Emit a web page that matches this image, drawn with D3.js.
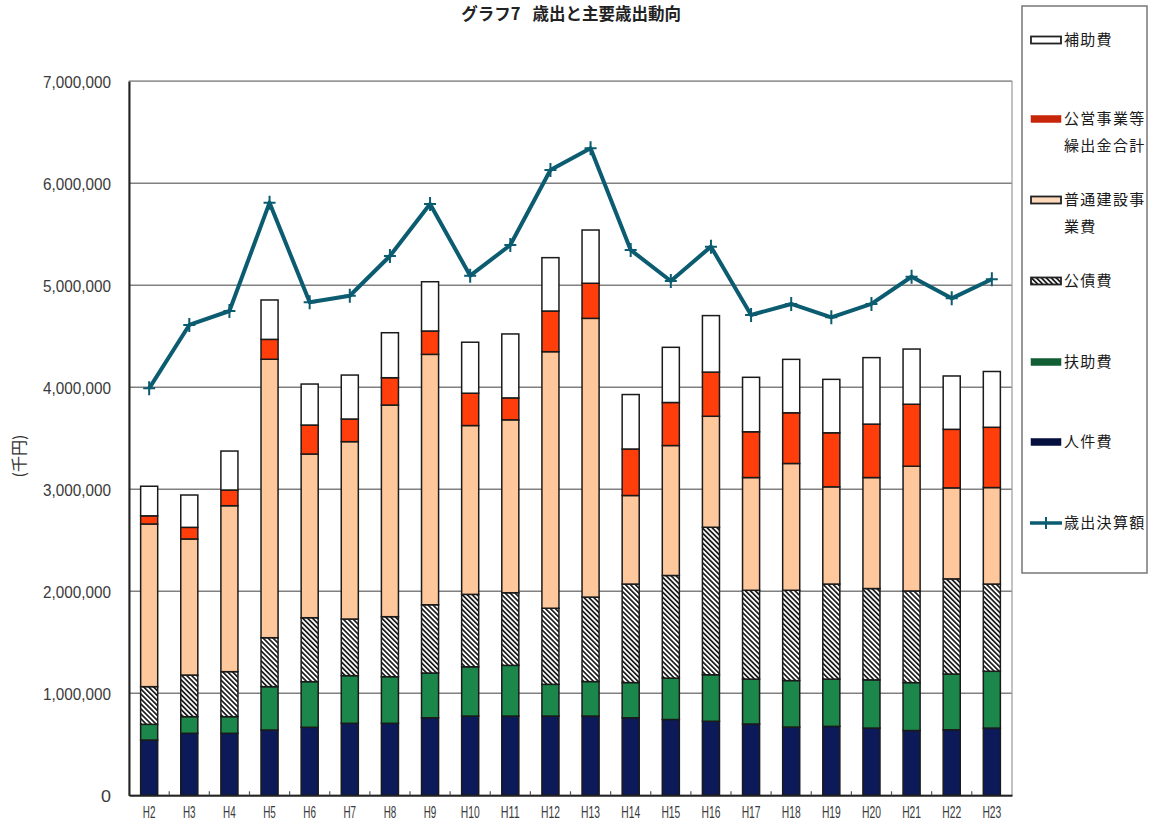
<!DOCTYPE html>
<html lang="ja">
<head>
<meta charset="utf-8">
<script src="https://cdn.jsdelivr.net/npm/d3@7"></script>
<style>
  html, body { margin: 0; padding: 0; background: #fff; }
  svg { display: block; }
</style>
</head>
<body>
<svg id="chart" width="1151" height="821"></svg>
<script>
// 年度
const years = ["H2","H3","H4","H5","H6","H7","H8","H9","H10","H11","H12","H13","H14","H15","H16","H17","H18","H19","H20","H21","H22","H23"];

// 主要歳出（千円）
const personnel = [542000,608000,608000,640000,667000,706000,706000,760000,777000,777000,777000,777000,760000,743000,726000,699000,669000,676000,659000,635000,642000,659000];        // 人件費
const assistance = [154000,163000,163000,425000,447000,467000,457000,439000,483000,497000,311000,338000,345000,406000,456000,440000,456000,463000,473000,470000,547000,557000];   // 扶助費
const debtService = [369000,408000,441000,480000,627000,555000,588000,669000,710000,712000,746000,828000,966000,1006000,1446000,871000,885000,932000,895000,898000,933000,855000]; // 公債費
const construction = [1595000,1334000,1627000,2730000,1605000,1739000,2075000,2455000,1655000,1695000,2515000,2733000,868000,1274000,1088000,1105000,1243000,953000,1088000,1223000,892000,946000]; // 普通建設事業費
const transfers = [80000,114000,154000,195000,284000,222000,268000,229000,317000,215000,399000,344000,456000,422000,433000,449000,497000,530000,524000,608000,574000,591000];      // 公営事業等繰出金合計
const subsidies = [290000,317000,382000,386000,402000,431000,441000,483000,500000,627000,523000,522000,534000,541000,554000,534000,524000,524000,652000,541000,523000,547000];    // 補助費

// 歳出決算額（千円）
const totalExpenditure = [3990000,4611000,4748000,5810000,4833000,4898000,5287000,5797000,5094000,5395000,6130000,6343000,5346000,5042000,5379000,4709000,4817000,4686000,4817000,5084000,4872000,5059000];

// 縦軸目盛
const yTicks = [0,1000000,2000000,3000000,4000000,5000000,6000000,7000000];

const seriesKeys = ["personnel","assistance","debtService","construction","transfers","subsidies"];
const fills = {
  personnel: "#0c1a5a",
  assistance: "#1b874b",
  debtService: "url(#hatch)",
  construction: "#ffc89c",
  transfers: "#ff3e0c",
  subsidies: "#ffffff"
};
const lineColor = "#0b5c70";

const rows = years.map((yr, i) => ({
  year: yr,
  personnel: personnel[i], assistance: assistance[i], debtService: debtService[i],
  construction: construction[i], transfers: transfers[i], subsidies: subsidies[i],
  total: totalExpenditure[i]
}));

const svg = d3.select("#chart");
const plotLeft = 129, plotRight = 1012, plotTop = 81.3, plotBottom = 795.3;

// 斜線パターン（公債費）
const defs = svg.append("defs");
defs.append("pattern")
  .attr("id", "hatch")
  .attr("patternUnits", "userSpaceOnUse")
  .attr("width", 3.5).attr("height", 3.5)
  .attr("patternTransform", "rotate(-45)")
  .call(p => {
    p.append("rect").attr("width", 3.5).attr("height", 3.5).attr("fill", "#fff");
    p.append("rect").attr("width", 1.7).attr("height", 3.5).attr("fill", "#1a1a1a");
  });

const x = d3.scaleBand().domain(years).range([plotLeft, plotRight]).paddingInner(0.575).paddingOuter(0.29);
const y = d3.scaleLinear().domain([0, 7000000]).range([plotBottom, plotTop]);

// グリッド線
svg.append("g")
  .selectAll("line")
  .data(yTicks.filter(t => t > 0))
  .join("line")
  .attr("x1", plotLeft).attr("x2", plotRight)
  .attr("y1", d => y(d)).attr("y2", d => y(d))
  .attr("stroke", "#808080").attr("stroke-width", 1.5);

// 外枠
svg.append("rect")
  .attr("x", plotLeft).attr("y", plotTop)
  .attr("width", plotRight - plotLeft).attr("height", plotBottom - plotTop)
  .attr("fill", "none").attr("stroke", "#9a9a9a").attr("stroke-width", 1.2);

// 縦軸
const yAxis = d3.axisLeft(y).tickValues(yTicks).tickFormat(d3.format(",")).tickSize(0).tickPadding(18);
const gy = svg.append("g").attr("transform", `translate(${plotLeft},0)`).call(yAxis);
gy.select(".domain").attr("stroke", "#222").attr("stroke-width", 2);
gy.selectAll("text")
  .attr("font-family", "'Liberation Sans', Arial, sans-serif")
  .attr("font-size", 17)
  .attr("fill", "#3a3a3a")
  .attr("dy", "0.35em")
  .each(function () {
    const t = d3.select(this);
    const s = t.text();
    const w = s.length > 1 ? 68 : 10;
    t.attr("textLength", w).attr("lengthAdjust", "spacingAndGlyphs");
  });

// 積み上げ棒
const stacked = d3.stack().keys(seriesKeys)(rows);
svg.append("g")
  .selectAll("g")
  .data(stacked)
  .join("g")
  .attr("fill", d => fills[d.key])
  .selectAll("rect")
  .data(d => d)
  .join("rect")
  .attr("x", d => x(d.data.year))
  .attr("width", x.bandwidth())
  .attr("y", d => y(d[1]))
  .attr("height", d => y(d[0]) - y(d[1]))
  .attr("stroke", "#1a1a1a")
  .attr("stroke-width", 1.5);

// 横軸
const xAxis = d3.axisBottom(x).tickSize(0).tickPadding(11);
const gx = svg.append("g").attr("transform", `translate(0,${plotBottom})`).call(xAxis);
gx.select(".domain").attr("stroke", "#222").attr("stroke-width", 2);
gx.selectAll("text")
  .attr("font-family", "'Liberation Sans', Arial, sans-serif")
  .attr("font-size", 16)
  .attr("fill", "#3a3a3a")
  .each(function () {
    const t = d3.select(this);
    t.attr("textLength", t.text().length * 6.3).attr("lengthAdjust", "spacingAndGlyphs");
  });

// 区切り目盛（内向き）
svg.append("g")
  .selectAll("line")
  .data(years.slice(1))
  .join("line")
  .attr("x1", d => x(d) - x.step() * x.paddingInner() / 2)
  .attr("x2", d => x(d) - x.step() * x.paddingInner() / 2)
  .attr("y1", plotBottom).attr("y2", plotBottom - 4)
  .attr("stroke", "#555").attr("stroke-width", 1.2);

// 歳出決算額の折れ線
const line = d3.line()
  .x(d => x(d.year) + x.bandwidth() / 2)
  .y(d => y(d.total));
svg.append("path")
  .datum(rows)
  .attr("d", line)
  .attr("fill", "none")
  .attr("stroke", lineColor)
  .attr("stroke-width", 4)
  .attr("stroke-linejoin", "round");

svg.append("g")
  .selectAll("path")
  .data(rows)
  .join("path")
  .attr("transform", d => `translate(${x(d.year) + x.bandwidth() / 2},${y(d.total)})`)
  .attr("d", "M-6,0H6M0,-7V7")
  .attr("stroke", lineColor)
  .attr("stroke-width", 2);

// タイトル
const title = svg.append("text")
  .attr("x", 571).attr("y", 20)
  .attr("text-anchor", "middle")
  .attr("font-family", "'Noto Sans CJK JP', sans-serif")
  .attr("font-size", 16.5)
  .attr("font-weight", "bold")
  .attr("fill", "#222");
title.append("tspan").text("グラフ7");
title.append("tspan").attr("dx", 12).text("歳出と主要歳出動向");

// 縦軸単位
svg.append("text")
  .attr("transform", "translate(19,456) rotate(-90)")
  .attr("text-anchor", "middle")
  .attr("dy", "0.35em")
  .attr("font-family", "'Noto Sans CJK JP', sans-serif")
  .attr("font-size", 16)
  .attr("fill", "#333")
  .text("(千円)");

// 凡例
const legend = svg.append("g");
legend.append("rect")
  .attr("x", 1022).attr("y", 6).attr("width", 125).attr("height", 567)
  .attr("fill", "#fff").attr("stroke", "#777").attr("stroke-width", 1.5);

const legendItems = [
  { key: "subsidies", lines: ["補助費"], cy: 40 },
  { key: "transfers", lines: ["公営事業等", "繰出金合計"], cy: 119 },
  { key: "construction", lines: ["普通建設事", "業費"], cy: 200 },
  { key: "debtService", lines: ["公債費"], cy: 281 },
  { key: "assistance", lines: ["扶助費"], cy: 362 },
  { key: "personnel", lines: ["人件費"], cy: 442 },
  { key: "total", lines: ["歳出決算額"], cy: 523 }
];
const legendFill = {
  subsidies: "#ffffff", transfers: "#c8260a", construction: "#ffd9bb",
  debtService: "url(#hatch)", assistance: "#115e34", personnel: "#05103e"
};
const outlined = new Set(["subsidies", "construction", "debtService"]);

legendItems.forEach(item => {
  const g = legend.append("g");
  if (item.key === "total") {
    g.append("line")
      .attr("x1", 1030).attr("x2", 1062)
      .attr("y1", item.cy).attr("y2", item.cy)
      .attr("stroke", lineColor).attr("stroke-width", 3.5);
    g.append("path")
      .attr("d", `M1046,${item.cy - 6}V${item.cy + 6}`)
      .attr("stroke", lineColor).attr("stroke-width", 2);
  } else {
    g.append("rect")
      .attr("x", 1031).attr("y", item.cy - 3.5)
      .attr("width", 30).attr("height", 7)
      .attr("fill", legendFill[item.key])
      .attr("stroke", outlined.has(item.key) ? "#222" : legendFill[item.key])
      .attr("stroke-width", outlined.has(item.key) ? 1.8 : 0.5);
  }
  item.lines.forEach((ln, j) => {
    g.append("text")
      .attr("x", 1064).attr("y", item.cy + j * 26.5)
      .attr("dy", "0.36em")
      .attr("font-family", "'Noto Sans CJK JP', sans-serif")
      .attr("font-size", 15)
      .attr("letter-spacing", 1.3)
      .attr("fill", "#1a1a1a")
      .text(ln);
  });
});
</script>
</body>
</html>
